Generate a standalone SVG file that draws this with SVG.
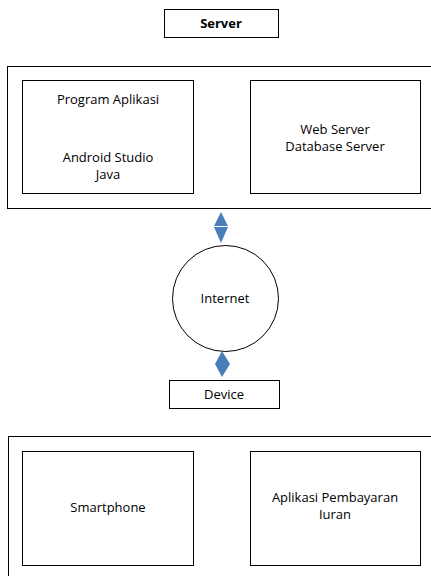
<svg xmlns="http://www.w3.org/2000/svg" width="431" height="576" viewBox="0 0 431 576">
<style>
.box{fill:#fff;stroke:#000;stroke-width:1}
.t{font-family:"Open Sans","Liberation Sans",sans-serif;font-size:13px;fill:#000;text-anchor:middle}
.b{font-weight:bold}
.arr{fill:#4a7ebb}
</style>
<rect width="431" height="576" fill="#fff"/>
<g id="server-label">
<rect class="box" x="164.5" y="9.5" width="114" height="28"/>
<text class="t b" x="221" y="28">Server</text>
</g>
<g id="server-group">
<rect class="box" x="7.5" y="66.5" width="430" height="142"/>
</g>
<g id="program-aplikasi">
<rect class="box" x="22.5" y="80.5" width="171" height="113"/>
<text class="t" x="108" y="104">Program Aplikasi</text>
<text class="t" x="108" y="162">Android Studio</text>
<text class="t" x="108" y="179">Java</text>
</g>
<g id="web-server">
<rect class="box" x="250.5" y="80.5" width="170" height="113"/>
<text class="t" x="335" y="134">Web Server</text>
<text class="t" x="335" y="151">Database Server</text>
</g>
<g id="internet">
<circle class="box" cx="225.5" cy="298.5" r="53"/>
<text class="t" x="225" y="303">Internet</text>
</g>
<g id="device">
<rect class="box" x="169.5" y="380.5" width="110" height="28"/>
<text class="t" x="224" y="399">Device</text>
</g>
<g id="device-group">
<rect class="box" x="8.5" y="436.5" width="430" height="150"/>
</g>
<g id="smartphone">
<rect class="box" x="22.5" y="451.5" width="171" height="114"/>
<text class="t" x="108" y="512">Smartphone</text>
</g>
<g id="aplikasi-pembayaran">
<rect class="box" x="250.5" y="451.5" width="170" height="114"/>
<text class="t" x="335" y="502">Aplikasi Pembayaran</text>
<text class="t" x="335" y="519">Iuran</text>
</g>
<g id="connectors">
<polygon class="arr" points="221,212 228,226 214,226"/>
<polygon class="arr" points="214,227 228,227 221,243"/>
<polygon class="arr" points="222,351 230,364 222,377 215,364"/>
</g>
</svg>
